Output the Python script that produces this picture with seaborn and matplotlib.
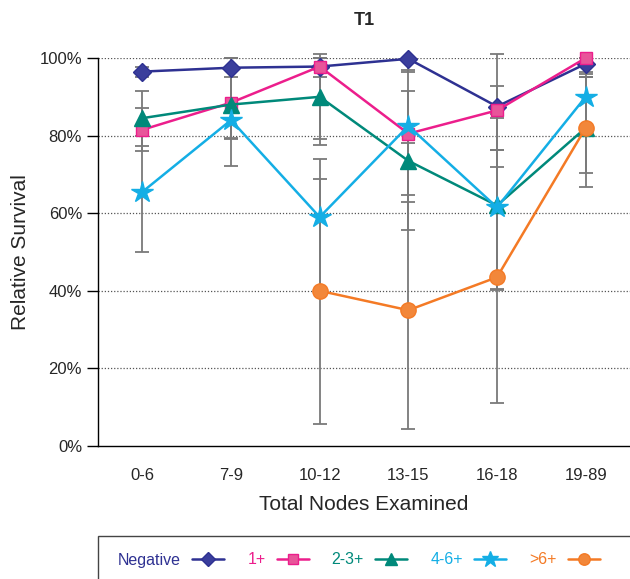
"""
Relative survival by total nodes examined, T1
Output: out.png
"""

import matplotlib.pyplot as plt
import numpy as np
import pandas as pd
import seaborn as sns
from matplotlib.patches import Rectangle

nan = np.nan

# Node groups on the x axis
groups = ['0-6', '7-9', '10-12', '13-15', '16-18', '19-89']
series_names = ['Negative', '1+', '2-3+', '4-6+', '>6+']

# Relative survival (%) per group
negative = [96.5, 97.5, 97.8, 99.8, 87.5, 98.5]
pos_1 = [81.5, 88.5, 97.8, 80.5, 86.5, 100.0]
pos_2_3 = [84.5, 88.0, 90.0, 73.5, 62.0, 82.0]
pos_4_6 = [65.5, 84.0, 59.0, 82.5, 61.5, 90.0]
pos_gt6 = [nan, nan, 40.0, 35.0, 43.5, 82.0]

# Confidence limits (%)
negative_lo = [95.2, 95.0, 95.2, 96.3, 84.6, 96.3]
negative_hi = [97.8, 100.0, 100.0, 100.0, 92.7, 100.0]
pos_1_lo = [76.0, 79.3, 77.5, 64.7, 76.3, 95.8]
pos_1_hi = [87.0, 100.0, 101.0, 91.5, 101.0, 100.0]
pos_2_3_lo = [77.2, 79.0, 79.2, 55.7, 40.2, 70.4]
pos_2_3_hi = [91.5, 100.0, 100.0, 78.0, 85.5, 95.0]
pos_4_6_lo = [50.1, 72.2, 40.0, 63.0, 40.4, 80.0]
pos_4_6_hi = [80.0, 100.0, 74.0, 96.8, 71.9, 98.2]
pos_gt6_lo = [nan, nan, 5.6, 4.5, 11.0, 66.8]
pos_gt6_hi = [nan, nan, 68.9, 71.3, 76.3, 95.0]

values = [negative, pos_1, pos_2_3, pos_4_6, pos_gt6]
lows = [negative_lo, pos_1_lo, pos_2_3_lo, pos_4_6_lo, pos_gt6_lo]
highs = [negative_hi, pos_1_hi, pos_2_3_hi, pos_4_6_hi, pos_gt6_hi]

# Styles
colors = ['#2E3192', '#EC1E8C', '#00897A', '#14AEE5', '#F47A25']
faces = ['#3A3E9C', '#E8559A', '#00897A', '#14AEE5', '#F2873A']
markers = ['D', 's', '^', '*', 'o']
msizes = [9, 9, 12, 16, 11]

sns.set_style('white')
plt.rcParams['font.family'] = ['Liberation Sans', 'DejaVu Sans']

fig = plt.figure(figsize=(6.3, 5.79), dpi=100)
ax = fig.add_axes([0.1556, 0.2297, 0.8444, 0.6701])

x = np.arange(len(groups))

# Error bars first so the lines sit on top
for v, lo, hi in zip(values, lows, highs):
    v = np.array(v); lo = np.array(lo); hi = np.array(hi)
    ok = ~np.isnan(v)
    ax.errorbar(x[ok], v[ok], yerr=[v[ok] - lo[ok], hi[ok] - v[ok]],
                fmt='none', ecolor='#7a7a7a', elinewidth=1.3, capsize=5,
                capthick=1.3, zorder=2, clip_on=False)

for name, v, c, fc, m, ms in zip(series_names, values, colors, faces, markers, msizes):
    df = pd.DataFrame({'x': x, 'y': v}).dropna()
    sns.lineplot(data=df, x='x', y='y', color=c, marker=m, markersize=ms,
                 markerfacecolor=fc, markeredgecolor=c, markeredgewidth=1.0,
                 linewidth=1.8, label=name, estimator=None, ax=ax, zorder=3,
                 clip_on=False)

# Axes
ax.set_xlim(-0.5, len(groups) - 0.5)
ax.set_ylim(0, 100)
ax.set_xticks(x)
ax.set_xticklabels(groups, fontsize=12)
ax.set_xticks(np.arange(len(groups) + 1) - 0.5, minor=True)
ax.tick_params(axis='x', which='major', length=0, pad=15.5)
ax.tick_params(axis='x', which='minor', length=7, width=1, color='black', direction='out')
ax.set_yticks([0, 20, 40, 60, 80, 100])
ax.set_yticklabels(['0%', '20%', '40%', '60%', '80%', '100%'], fontsize=12)
ax.tick_params(axis='y', length=8, width=1, color='black', direction='out', left=True)

for y in [20, 40, 60, 80, 100]:
    ax.axhline(y, color='#555555', linestyle=(0, (1, 1.5)), linewidth=0.9, zorder=1)

sns.despine(ax=ax, top=True, right=True)
ax.spines['left'].set_color('black')
ax.spines['bottom'].set_color('black')
ax.spines['left'].set_linewidth(1.0)
ax.spines['bottom'].set_linewidth(1.0)

ax.set_xlabel('Total Nodes Examined', fontsize=15, labelpad=9)
ax.set_ylabel('Relative Survival', fontsize=15, labelpad=7)
ax.set_title('T1', fontsize=13, fontweight='bold', pad=24)

# Legend along the bottom, in a box that runs off the figure
handles, labels = ax.get_legend_handles_labels()
ax.get_legend().remove()
fig.patches.append(Rectangle((98 / 630, -0.05), 0.9, 0.05 + (579 - 536) / 579,
                             transform=fig.transFigure, facecolor='white',
                             edgecolor='#444444', linewidth=1.0, zorder=0))
leg = fig.legend(handles, labels, loc='center left', bbox_to_anchor=(118 / 630, 1 - 560 / 579),
                 ncol=5, markerfirst=False, fontsize=11.5, labelcolor='linecolor',
                 frameon=False, borderpad=0, handlelength=2.0, handletextpad=0.7,
                 columnspacing=1.45, borderaxespad=0, markerscale=0.75)

fig.savefig('out.png', dpi=100, facecolor='white')
